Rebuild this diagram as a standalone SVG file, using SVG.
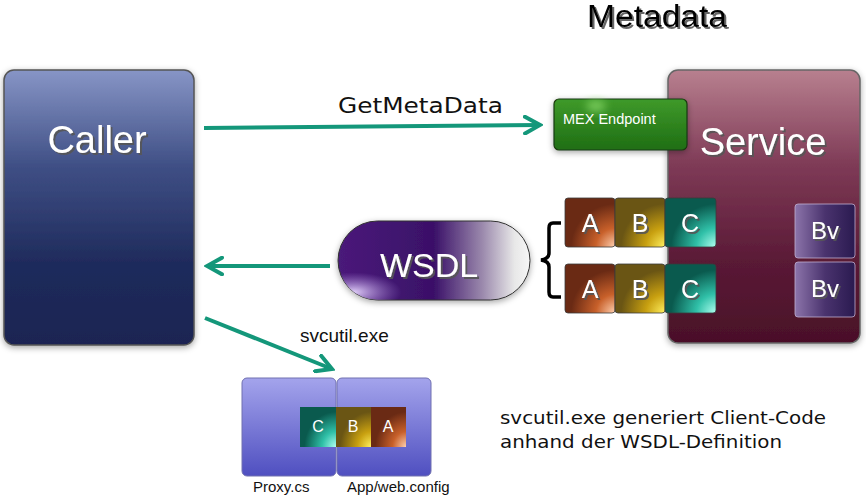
<svg xmlns="http://www.w3.org/2000/svg" width="866" height="500" viewBox="0 0 866 500">
<defs>
<style>
.big{font-family:"Liberation Sans",Arial,sans-serif;fill:#fff;}
.lbl{font-family:"DejaVu Sans",Verdana,sans-serif;fill:#111;}
.sm{font-family:"Liberation Sans",Arial,sans-serif;fill:#111;}
.conn{stroke:#14977a;stroke-width:4;fill:none;}
.blk{stroke:#3a3a3a;stroke-width:0.8;}
</style>
<filter id="sh" x="-20%" y="-20%" width="140%" height="140%"><feDropShadow dx="0" dy="2" stdDeviation="3" flood-color="#000" flood-opacity="0.35"/></filter>
<filter id="tsh" x="-10%" y="-10%" width="130%" height="140%"><feDropShadow dx="2" dy="2" stdDeviation="0.6" flood-color="#555" flood-opacity="0.9"/></filter>
<filter id="blur" x="-50%" y="-50%" width="200%" height="200%"><feGaussianBlur stdDeviation="4"/></filter>
<linearGradient id="gCaller" x1="0" y1="0" x2="0" y2="1"><stop offset="0" stop-color="#8795c6"/><stop offset="0.35" stop-color="#3f4f85"/><stop offset="0.7" stop-color="#1f2b5c"/><stop offset="1" stop-color="#1a2452"/></linearGradient>
<linearGradient id="gService" x1="0" y1="0" x2="0" y2="1"><stop offset="0" stop-color="#b8808f"/><stop offset="0.35" stop-color="#7e3a56"/><stop offset="0.7" stop-color="#5a1a36"/><stop offset="1" stop-color="#4a1028"/></linearGradient>
<linearGradient id="gMex" x1="0" y1="0" x2="0" y2="1"><stop offset="0" stop-color="#3f9a2a"/><stop offset="1" stop-color="#1f6e14"/></linearGradient>
<radialGradient id="gA" cx="1" cy="1" r="1.1"><stop offset="0" stop-color="#ffd0b0"/><stop offset="0.35" stop-color="#c8602a"/><stop offset="0.8" stop-color="#6a2a14"/></radialGradient>
<radialGradient id="gB" cx="1" cy="1" r="1.1"><stop offset="0" stop-color="#fff060"/><stop offset="0.35" stop-color="#c8a010"/><stop offset="0.8" stop-color="#6a5514"/></radialGradient>
<radialGradient id="gC" cx="1" cy="1" r="1.1"><stop offset="0" stop-color="#b0fff0"/><stop offset="0.35" stop-color="#30c0a8"/><stop offset="0.8" stop-color="#0a5a4e"/></radialGradient>
<linearGradient id="gBv" x1="0" y1="0" x2="1" y2="0"><stop offset="0" stop-color="#8c74aa"/><stop offset="0.5" stop-color="#4a336e"/><stop offset="1" stop-color="#2a1a50"/></linearGradient>
<linearGradient id="gWsdl" x1="0" y1="0" x2="1" y2="0"><stop offset="0" stop-color="#4a1a7a"/><stop offset="0.5" stop-color="#3a1068"/><stop offset="0.75" stop-color="#9a88ac"/><stop offset="0.92" stop-color="#e8e8e8"/><stop offset="1" stop-color="#f6f6f6"/></linearGradient>
<radialGradient id="gWsdlSpot" cx="0.08" cy="0.9" r="0.25"><stop offset="0" stop-color="#e8d8ff" stop-opacity="0.95"/><stop offset="1" stop-color="#b090e0" stop-opacity="0"/></radialGradient>
<linearGradient id="gBot" x1="0" y1="0" x2="0" y2="1"><stop offset="0" stop-color="#a4a4ec"/><stop offset="1" stop-color="#4f4fc0"/></linearGradient>
<marker id="ah" viewBox="0 0 12 12" refX="10" refY="6" markerWidth="5" markerHeight="5" orient="auto" markerUnits="strokeWidth"><path d="M1,1 L10,6 L1,11" fill="none" stroke="#14977a" stroke-width="2.4" stroke-linecap="round"/></marker>
</defs>
<rect width="866" height="500" fill="#fff"/>

<text x="587" y="27" class="sm" font-size="31" textLength="140" lengthAdjust="spacingAndGlyphs" filter="url(#tsh)" style="fill:#000">Metadata</text>

<g id="caller">
<rect x="4" y="70" width="190" height="275" rx="10" fill="url(#gCaller)" stroke="#555" stroke-width="1.5" filter="url(#sh)"/>
<text x="97" y="153" class="big" font-size="38" text-anchor="middle" filter="url(#tsh)">Caller</text>
</g>

<g id="service">
<rect x="668" y="70" width="192" height="273" rx="10" fill="url(#gService)" stroke="#666" stroke-width="1.5" filter="url(#sh)"/>
<text x="763" y="155" class="big" font-size="38" text-anchor="middle" filter="url(#tsh)">Service</text>
</g>

<g id="mex">
<rect x="554" y="99" width="133" height="51" rx="5" fill="url(#gMex)" stroke="#1a3a10" stroke-width="1.2" filter="url(#sh)"/>
<ellipse cx="596" cy="106" rx="10" ry="6" fill="#8fe070" opacity="0.7" filter="url(#blur)"/>
<text x="563" y="124" class="big" font-size="14.5">MEX Endpoint</text>
</g>

<g id="abc1">
<rect x="565" y="198" width="50" height="49" rx="3" fill="url(#gA)" class="blk"/>
<rect x="615" y="198" width="50" height="49" rx="3" fill="url(#gB)" class="blk"/>
<rect x="665" y="198" width="51" height="49" rx="3" fill="url(#gC)" class="blk"/>
<text x="590" y="232" class="big" font-size="25" text-anchor="middle" filter="url(#tsh)">A</text>
<text x="640" y="232" class="big" font-size="25" text-anchor="middle" filter="url(#tsh)">B</text>
<text x="690" y="232" class="big" font-size="25" text-anchor="middle" filter="url(#tsh)">C</text>
</g>

<g id="abc2">
<rect x="565" y="264" width="50" height="49" rx="3" fill="url(#gA)" class="blk"/>
<rect x="615" y="264" width="50" height="49" rx="3" fill="url(#gB)" class="blk"/>
<rect x="665" y="264" width="51" height="49" rx="3" fill="url(#gC)" class="blk"/>
<text x="590" y="298" class="big" font-size="25" text-anchor="middle" filter="url(#tsh)">A</text>
<text x="640" y="298" class="big" font-size="25" text-anchor="middle" filter="url(#tsh)">B</text>
<text x="690" y="298" class="big" font-size="25" text-anchor="middle" filter="url(#tsh)">C</text>
</g>

<g id="bv1">
<rect x="795" y="204" width="60" height="54" rx="3" fill="url(#gBv)" stroke="#c0b0d0" stroke-width="0.8"/>
<text x="825" y="239" class="big" font-size="24" text-anchor="middle" filter="url(#tsh)">Bv</text>
</g>
<g id="bv2">
<rect x="795" y="262" width="60" height="55" rx="3" fill="url(#gBv)" stroke="#c0b0d0" stroke-width="0.8"/>
<text x="825" y="297" class="big" font-size="24" text-anchor="middle" filter="url(#tsh)">Bv</text>
</g>

<g id="brace">
<path d="M561,223 L553,223 Q549,223 549,228 L549,253 Q549,259 541,260 Q549,261 549,267 L549,292 Q549,297 553,297 L561,297" fill="none" stroke="#000" stroke-width="3.5"/>
</g>

<g id="wsdl">
<rect x="338" y="221" width="192" height="79" rx="39.5" fill="url(#gWsdl)" stroke="#333" stroke-width="1" filter="url(#sh)"/>
<rect x="338" y="221" width="192" height="79" rx="39.5" fill="url(#gWsdlSpot)"/>
<text x="429" y="277" class="big" font-size="34" text-anchor="middle" filter="url(#tsh)">WSDL</text>
</g>

<g id="proxy">
<rect x="242" y="378" width="94" height="98" rx="5" fill="url(#gBot)" stroke="#7070b0" stroke-width="1"/>
<text x="253" y="492" class="sm" font-size="15">Proxy.cs</text>
</g>
<g id="appconfig">
<rect x="337" y="378" width="94" height="98" rx="5" fill="url(#gBot)" stroke="#7070b0" stroke-width="1"/>
<text x="347" y="492" class="sm" font-size="15">App/web.config</text>
</g>
<g id="cba">
<rect x="300" y="407" width="36" height="40" fill="url(#gC)"/>
<rect x="336" y="407" width="35" height="40" fill="url(#gB)"/>
<rect x="371" y="407" width="35" height="40" fill="url(#gA)"/>
<text x="318" y="432" class="big" font-size="16" text-anchor="middle">C</text>
<text x="353" y="432" class="big" font-size="16" text-anchor="middle">B</text>
<text x="388" y="432" class="big" font-size="16" text-anchor="middle">A</text>
</g>

<g id="connectors">
<line x1="204" y1="128" x2="540" y2="125" class="conn" marker-end="url(#ah)"/>
<text x="338" y="113" class="lbl" font-size="22" textLength="165" lengthAdjust="spacingAndGlyphs">GetMetaData</text>
<line x1="330" y1="266" x2="207" y2="266" class="conn" marker-end="url(#ah)"/>
<line x1="205" y1="318" x2="332" y2="369" class="conn" marker-end="url(#ah)"/>
<text x="300" y="342" class="sm" font-size="19">svcutil.exe</text>
</g>

<text x="500" y="424" class="lbl" font-size="17" textLength="326" lengthAdjust="spacingAndGlyphs">svcutil.exe generiert Client-Code</text>
<text x="500" y="448" class="lbl" font-size="17" textLength="282" lengthAdjust="spacingAndGlyphs">anhand der WSDL-Definition</text>
</svg>
